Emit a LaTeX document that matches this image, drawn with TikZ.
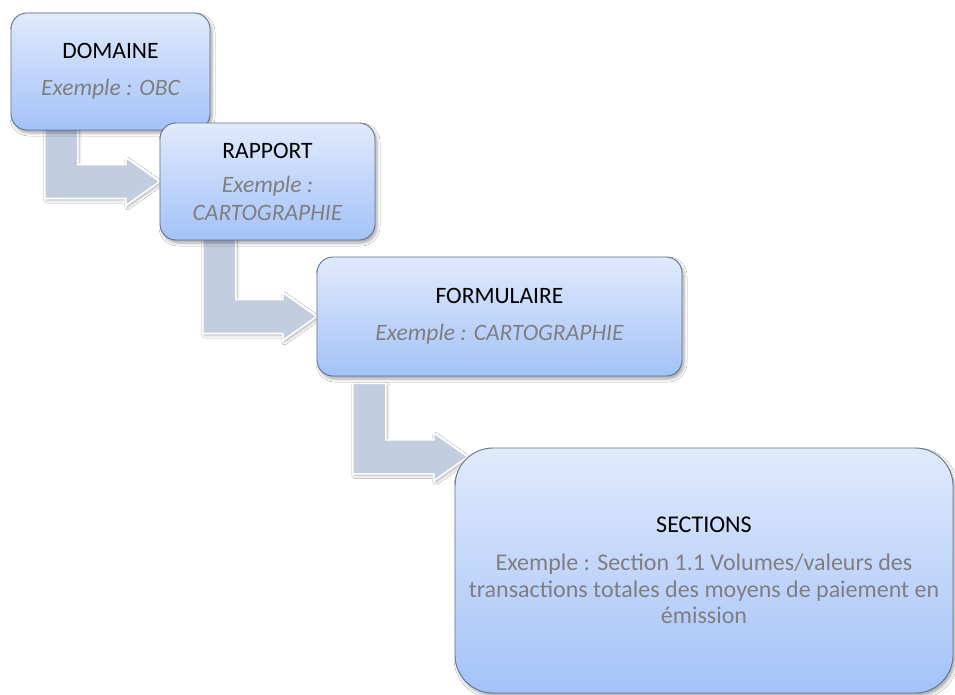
\documentclass[tikz,border=0pt]{standalone}
\usepackage{fontspec}
\setmainfont{Carlito}
\usetikzlibrary{calc,shadows.blur}
\definecolor{arrowc}{HTML}{C3CDE0}
\definecolor{boxtop}{HTML}{E0EAFC}
\definecolor{boxmid}{HTML}{CADBFA}
\definecolor{boxbot}{HTML}{A4C2F8}
\definecolor{boxborder}{HTML}{65728A}
\definecolor{exgray}{HTML}{7F7F7F}
\newcommand\exI{\color{exgray}\itshape}
\newcommand\exR{\color{exgray}}
\newcommand\bentarr[2]{%
  \path[bentarrow] let \p1=(#1), \p2=(#2) in
    (\x1,\y1) -- (\x1+33pt,\y1) -- (\x1+33pt,\y2+17pt) -- (\x2-34pt,\y2+17pt)
    -- (\x2-34pt,\y2+24pt) -- (\x2,\y2) -- (\x2-34pt,\y2-24pt)
    -- (\x2-34pt,\y2-17pt) -- (\x1,\y2-17pt) -- cycle;}
\begin{document}
\begin{tikzpicture}[x=1pt,y=-1pt,
  bentarrow/.style={fill=arrowc, draw=white, line width=1.6pt, line join=miter,
    blur shadow={shadow xshift=1.5pt, shadow yshift=-2pt, shadow blur radius=2.5pt, shadow opacity=30}},
  box/.style={draw=boxborder, line width=0.9pt, rounded corners=16pt,
    top color=boxtop, middle color=boxmid, bottom color=boxbot,
    align=center, inner sep=0pt,
    font=\fontsize{23.5}{28}\selectfont,
    blur shadow={shadow xshift=2pt, shadow yshift=-3pt, shadow blur radius=3pt, shadow opacity=35}}]
\useasboundingbox (0,0) rectangle (955,695);
\fill[white] (0,0) rectangle (955,695);
\path (110.5,71.5) coordinate (cdom) (267.5,181.5) coordinate (crap)
      (499.5,316.5) coordinate (cform) (704,570.5) coordinate (csec);
\path (cdom) node[minimum width=199pt, minimum height=117pt, inner sep=0pt] (domb) {};
\path (crap) node[minimum width=215pt, minimum height=117pt, inner sep=0pt] (rapb) {};
\path (cform) node[minimum width=365pt, minimum height=119pt, inner sep=0pt] (formb) {};
\path (csec) node[minimum width=498pt, minimum height=245pt, inner sep=0pt] (secb) {};
\coordinate (a1s) at ($(domb.south west)+(34,-2)$);
\coordinate (a2s) at ($(rapb.south west)+(43,-2)$);
\coordinate (a3s) at ($(formb.south west)+(36,7)$);
\coordinate (t3) at ($(secb.north west)+(13,9)$);
% arrows
\bentarr{a1s}{rapb.west}
\bentarr{a2s}{formb.west}
\bentarr{a3s}{t3}
% boxes
\node[box, minimum width=199pt, minimum height=117pt] (dom) at (cdom)
  {DOMAINE\\[9pt]\exI Exemple : OBC};
\node[box, minimum width=215pt, minimum height=117pt] (rap) at (crap)
  {RAPPORT\\[6pt]\exI Exemple :\\\exI CARTOGRAPHIE};
\node[box, minimum width=365pt, minimum height=119pt] (form) at (cform)
  {FORMULAIRE\\[9pt]\exI Exemple : CARTOGRAPHIE};
\node[box, rounded corners=38pt, minimum width=498pt, minimum height=245pt,
  font=\fontsize{24}{26.5}\selectfont] (sec) at (csec)
  {SECTIONS\\[12pt]\exR Exemple : Section 1.1 Volumes/valeurs des\\
   \exR transactions totales des moyens de paiement en\\\exR émission};
\end{tikzpicture}
\end{document}
